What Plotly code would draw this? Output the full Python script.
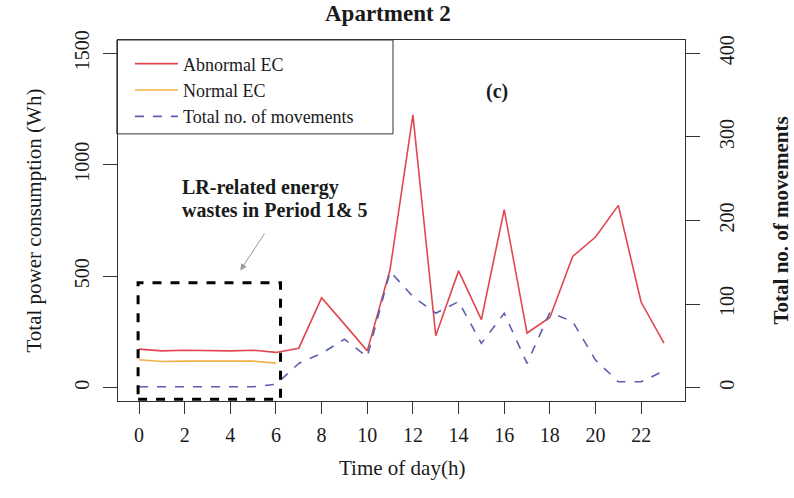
import plotly.graph_objects as go

hours = list(range(24))
abnormal_ec = [173, 165, 168, 165, 165, 168, 158, 177, 403, 285, 165, 530,
               1224, 233, 524, 305, 799, 245, 315, 589, 676, 818, 383, 200]
normal_hours = hours[:7]
normal_ec = [125, 117, 119, 118, 118, 119, 110]
movements = [1, 1, 1, 1, 1, 1, 4, 29, 41, 58, 37, 139,
             109, 89, 103, 53, 89, 29, 90, 79, 33, 7, 7, 20]
x_ticks = list(range(0, 23, 2))
left_ticks = [0, 500, 1000, 1500]
right_ticks = [0, 100, 200, 300, 400]

FONT = "Liberation Serif, Times New Roman, serif"
TXT = "#1a1a1a"
AX = "#333333"

fig = go.Figure()
fig.add_trace(go.Scatter(x=hours, y=abnormal_ec, name="Abnormal EC", mode="lines",
                         line=dict(color="#e0474f", width=1.6)))
fig.add_trace(go.Scatter(x=normal_hours, y=normal_ec, name="Normal EC", mode="lines",
                         line=dict(color="#f2b04a", width=1.6)))
fig.add_trace(go.Scatter(x=hours, y=movements, name="Total no. of movements", mode="lines",
                         yaxis="y2", line=dict(color="#5b5fb0", width=1.6, dash="dash")))

fig.update_layout(
    width=794, height=498,
    margin=dict(l=118, r=109, t=40, b=97, autoexpand=False),
    paper_bgcolor="white", plot_bgcolor="white",
    font=dict(family=FONT, color=TXT, size=20),
    showlegend=True,
    legend=dict(x=0.021, y=0.985, xanchor="left", yanchor="top",
                borderwidth=0, bgcolor="rgba(0,0,0,0)",
                font=dict(size=18, family=FONT, color=TXT),
                tracegroupgap=0, itemwidth=43),
    xaxis=dict(range=[-0.92, 23.92], tickvals=x_ticks, ticks="outside", ticklen=12,
               tickcolor=AX, showline=True, linecolor=AX, linewidth=1, mirror=True,
               showgrid=False, zeroline=False, tickfont=dict(size=20),
               ticklabelstandoff=4),
    yaxis=dict(range=[-60, 1560], tickvals=left_ticks, ticks="outside", ticklen=14,
               tickcolor=AX, showline=True, linecolor=AX, linewidth=1, mirror=True,
               showgrid=False, zeroline=False, tickangle=-90, tickfont=dict(size=20),
               ticklabelstandoff=6),
    yaxis2=dict(range=[-16, 416], tickvals=right_ticks, ticks="outside", ticklen=14,
                tickcolor=AX, overlaying="y", side="right", showline=True,
                linecolor=AX, linewidth=1, showgrid=False, zeroline=False,
                tickangle=-90, tickfont=dict(size=20), ticklabelstandoff=10),
)

annotations = [
    dict(text="<b>Apartment 2</b>", xref="paper", yref="paper", x=0, xshift=388 - 118,
         y=1, yshift=27, showarrow=False, font=dict(size=23), xanchor="center", yanchor="middle"),
    dict(text="Time of day(h)", xref="paper", yref="paper", x=0.5, y=0, yshift=-67,
         showarrow=False, font=dict(size=21), xanchor="center", yanchor="middle"),
    dict(text="Total power consumption (Wh)", xref="paper", yref="paper", x=0, xshift=-85,
         y=0.5, textangle=-90, showarrow=False, font=dict(size=21),
         xanchor="center", yanchor="middle"),
    dict(text="<b>Total no. of movements</b>", xref="paper", yref="paper", x=1, xshift=95,
         y=0.5, textangle=-90, showarrow=False, font=dict(size=21),
         xanchor="center", yanchor="middle"),
    dict(text="<b>(c)</b>", xref="x", yref="y", x=15.7, y=1327, showarrow=False,
         font=dict(size=20), xanchor="center", yanchor="middle"),
    dict(text="<b>LR-related energy</b>", xref="x", yref="y", x=1.8, y=898,
         showarrow=False, font=dict(size=20), xanchor="left", yanchor="middle"),
    dict(text="<b>wastes in Period 1& 5</b>", xref="x", yref="y", x=1.8, y=795,
         showarrow=False, font=dict(size=20), xanchor="left", yanchor="middle"),
    dict(text="", xref="x", yref="y", x=4.44, y=526, axref="x", ayref="y", ax=5.54, ay=698,
         showarrow=True, arrowhead=2, arrowsize=1.3, arrowwidth=1, arrowcolor="#999999"),
]
fig.update_layout(annotations=annotations)

# legend frame (R-style box)
fig.add_shape(type="rect", xref="paper", yref="paper", x0=-0.002, x1=0.485, y0=0.74, y1=1,
              line=dict(color=AX, width=1), fillcolor="rgba(0,0,0,0)", layer="below")
# dashed highlight box around period 0-6 h
fig.add_shape(type="rect", xref="x", yref="y", x0=-0.04, x1=6.2, y0=-52, y1=471,
              line=dict(color="black", width=3, dash="dash"), fillcolor="rgba(0,0,0,0)")

fig.write_html("out.html", config={"displayModeBar": False},
               post_script="document.body.style.margin='0';")
